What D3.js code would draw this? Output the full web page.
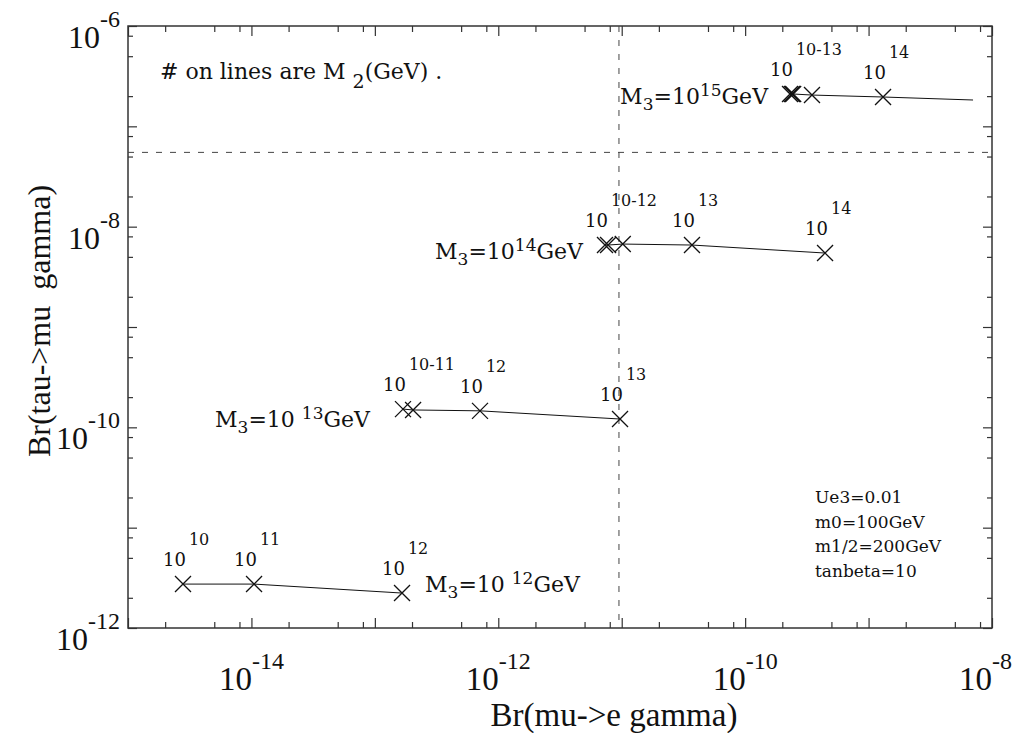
<!DOCTYPE html>
<html lang="en">
<head>
  <meta charset="UTF-8" />
  <title>Br(tau->mu gamma) vs Br(mu->e gamma)</title>
  <script src="https://d3js.org/d3.v7.min.js"></script>
  <style>
    body { margin: 0; background: #fff; }
    text { white-space: pre; fill: #111; }
    .frame { fill: none; stroke: #333; stroke-width: 1.5px; }
    .tick line { stroke: #333; stroke-width: 1.2px; }
    .bound { stroke: #444; stroke-width: 1px; stroke-dasharray: 6,8; }
    .curve { fill: none; stroke: #111; stroke-width: 1px; }
    .cross { stroke: #111; stroke-width: 1.3px; }
  </style>
</head>
<body>
<svg width="1015" height="733"></svg>

<script>
// --- data: Br(mu->e gamma), Br(tau->mu gamma), M2 tags ---
const meg12 = [2.79e-15, 1.05e-14, 1.66e-13];
const tmg12 = [2.74e-12, 2.74e-12, 2.23e-12];
const tags12 = ["10", "11", "12"];

const meg13 = [1.69e-13, 2.04e-13, 7.11e-13, 9.69e-12];
const tmg13 = [1.52e-10, 1.49e-10, 1.46e-10, 1.21e-10];
const tags13 = ["10-11", null, "12", "13"];

const meg14 = [7.32e-12, 7.75e-12, 1.02e-11, 3.71e-11, 4.44e-10];
const tmg14 = [6.56e-9, 6.56e-9, 6.71e-9, 6.56e-9, 5.46e-9];
const tags14 = ["10-12", null, null, "13", "14"];

const meg15 = [2.31e-10, 2.39e-10, 2.45e-10, 3.48e-10, 1.31e-9, 7.02e-9];
const tmg15 = [2.10e-7, 2.10e-7, 2.10e-7, 2.05e-7, 1.96e-7, 1.83e-7];
const tags15 = ["10-13", null, null, null, "14", null];
const marked15 = [true, true, true, true, true, false];

// experimental bounds (dashed lines)
const megBound = 9.5e-12;
const tmgBound = 5.5e-8;

const xLabelExps = [-14, -12, -10, -8];
const yLabelExps = [-12, -10, -8, -6];
const minorMult = [2, 5, 8];

const paramLines = ["Ue3=0.01", "m0=100GeV", "m1/2=200GeV", "tanbeta=10"];

// --- layout ---
const svg = d3.select("svg");
const L = 128, R = 992, T = 26, B = 628;
const x = d3.scaleLog().domain([1e-15, 1e-8]).range([L, R]);
const y = d3.scaleLog().domain([1e-12, 1e-6]).range([B, T]);

const TIMES = "'Liberation Serif', 'Times New Roman', serif";
const CENTURY = "'DejaVu Serif', serif";

// parts: [{t, size, up}] ; up = baseline raise in px
function rich(parent, px, py, parts, font, anchor) {
  const t = parent.append("text")
    .attr("x", px).attr("y", py)
    .attr("font-family", font)
    .attr("text-anchor", anchor || "start");
  let prev = 0;
  parts.forEach(p => {
    const up = p.up || 0;
    t.append("tspan")
      .attr("dy", prev - up)
      .attr("dx", p.dx || 0)
      .attr("font-size", p.size)
      .text(p.t);
    prev = up;
  });
  return t;
}

// --- ticks ---
const xMajor = d3.range(-15, -7).map(e => Math.pow(10, e));
const xMinor = d3.range(-15, -8).flatMap(e => minorMult.map(m => m * Math.pow(10, e)));
const yMajor = d3.range(-12, -5).map(e => Math.pow(10, e));
const yMinor = d3.range(-12, -6).flatMap(e => minorMult.map(m => m * Math.pow(10, e)));

function addAxis(axisFn, scale, vals, size, transform) {
  const g = svg.append("g").attr("transform", transform)
    .call(axisFn(scale).tickValues(vals).tickSize(-size).tickFormat(""));
  g.select(".domain").remove();
}
addAxis(d3.axisBottom, x, xMajor, 10, `translate(0,${B})`);
addAxis(d3.axisBottom, x, xMinor, 6, `translate(0,${B})`);
addAxis(d3.axisTop, x, xMajor, 10, `translate(0,${T})`);
addAxis(d3.axisTop, x, xMinor, 6, `translate(0,${T})`);
addAxis(d3.axisLeft, y, yMajor, 9, `translate(${L},0)`);
addAxis(d3.axisLeft, y, yMinor, 5, `translate(${L},0)`);
addAxis(d3.axisRight, y, yMajor, 9, `translate(${R},0)`);
addAxis(d3.axisRight, y, yMinor, 5, `translate(${R},0)`);

svg.append("rect").attr("class", "frame")
  .attr("x", L).attr("y", T).attr("width", R - L).attr("height", B - T);

// tick labels (the last one is pulled in so it stays on the page)
xLabelExps.forEach(e => {
  const last = e === xLabelExps[xLabelExps.length - 1];
  rich(svg, last ? 1012 : x(Math.pow(10, e)), 690,
    [{ t: "10", size: 33 }, { t: String(e), size: 24, up: 21 }], TIMES, last ? "end" : "middle");
});
yLabelExps.forEach(e => {
  rich(svg, 120, y(Math.pow(10, e)) + 22,
    [{ t: "10", size: 32 }, { t: String(e), size: 24, up: 21 }], TIMES, "end");
});

// axis titles
svg.append("text").attr("x", 614).attr("y", 726)
  .attr("text-anchor", "middle").attr("font-family", TIMES).attr("font-size", 33)
  .text("Br(mu->e gamma)");
svg.append("text").attr("transform", "translate(50,321) rotate(-90)")
  .attr("text-anchor", "middle").attr("font-family", TIMES).attr("font-size", 32)
  .text("Br(tau->mu  gamma)");

// bounds
svg.append("line").attr("class", "bound")
  .attr("x1", x(megBound)).attr("x2", x(megBound)).attr("y1", T).attr("y2", B);
svg.append("line").attr("class", "bound")
  .attr("x1", L).attr("x2", R).attr("y1", y(tmgBound)).attr("y2", y(tmgBound));

// --- series ---
const line = d3.line().x(d => x(d.meg)).y(d => y(d.tmg));

function drawSeries(meg, tmg, tags, marked) {
  const pts = meg.map((v, i) => ({ meg: v, tmg: tmg[i], tag: tags[i], mark: marked ? marked[i] : true }));
  svg.append("path").attr("class", "curve").attr("d", line(pts));
  const s = 8;
  pts.filter(p => p.mark).forEach(p => {
    const cx = x(p.meg), cy = y(p.tmg);
    svg.append("path").attr("class", "cross")
      .attr("d", `M${cx - s},${cy - s}L${cx + s},${cy + s}M${cx - s},${cy + s}L${cx + s},${cy - s}`);
  });
  pts.filter(p => p.tag).forEach(p => {
    rich(svg, x(p.meg) - 20, y(p.tmg) - 18,
      [{ t: "10", size: 18 }, { t: p.tag, size: 16, up: 21, dx: 3 }], CENTURY);
  });
  return pts;
}

const s12 = drawSeries(meg12, tmg12, tags12);
const s13 = drawSeries(meg13, tmg13, tags13);
const s14 = drawSeries(meg14, tmg14, tags14);
const s15 = drawSeries(meg15, tmg15, tags15, marked15);

// M3 labels
function m3Label(px, py, exp, anchor, gap) {
  rich(svg, px, py, [
    { t: "M", size: 22 },
    { t: "3", size: 17, up: -6 },
    { t: "=10" + (gap ? " " : ""), size: 22 },
    { t: exp, size: 17, up: 8 },
    { t: "GeV", size: 22 }
  ], CENTURY, anchor);
}
m3Label(x(s15[0].meg) - 22, y(s15[0].tmg) + 10, "15", "end");
m3Label(x(s14[0].meg) - 22, y(s14[0].tmg) + 14, "14", "end");
m3Label(x(s13[0].meg) - 33, y(s13[0].tmg) + 18, "13", "end", true);
m3Label(x(s12[2].meg) + 23, y(s12[2].tmg) - 1, "12", "start", true);

// notes
rich(svg, 160, 79, [
  { t: "# on lines are M ", size: 22 },
  { t: "2", size: 19, up: -9 },
  { t: "(GeV) .", size: 22 }
], CENTURY);

svg.append("g").selectAll("text").data(paramLines).enter().append("text")
  .attr("x", 815).attr("y", (d, i) => 503 + i * 24.5)
  .attr("font-family", CENTURY).attr("font-size", 17)
  .text(d => d);
</script>
</body>
</html>
